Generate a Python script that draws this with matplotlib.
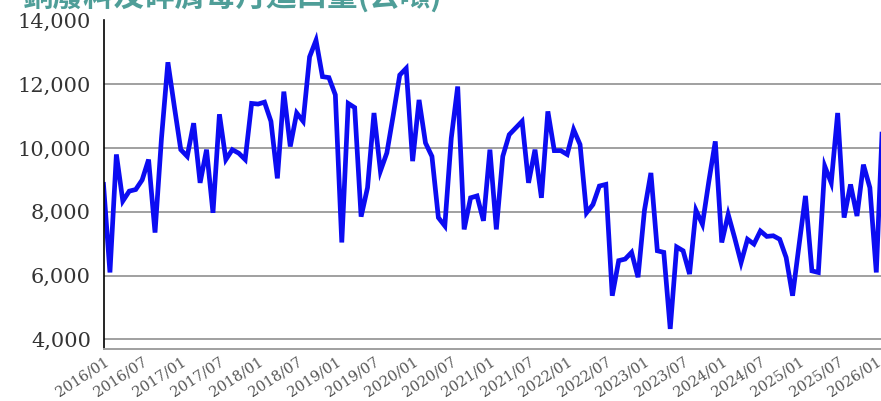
# 銅廢料及碎屑每月進口量 monthly line chart

import matplotlib.pyplot as plt
import numpy as np

title = "銅廢料及碎屑每月進口量(公噸)"

# monthly import volume (tonnes), 2016/01 onward
imports = [
    8860, 6100, 9800, 8340, 8650, 8700, 9000, 9640, 7350, 10300,   # 2016
    12690, 11300,
    9950, 9740, 10780, 8910, 9950, 7970, 11060, 9640, 9950, 9840,   # 2017
    9640, 11400,
    11380, 11440, 10840, 9050, 11770, 10050, 11100, 10840, 12860, 13380,  # 2018
    12240, 12210,
    11670, 7040, 11400, 11270, 7850, 8760, 11100, 9280, 9850, 11040,  # 2019
    12290, 12500,
    9590, 11510, 10160, 9740, 7820, 7560, 10310, 11930, 7450, 8440,  # 2020
    8500, 7720,
    9950, 7450, 9740, 10420, 10630, 10840, 8910, 9950, 8440, 11150,  # 2021
    9920, 9920,
    9800, 10580, 10110, 7970, 8230, 8810, 8860, 5370, 6470, 6520,    # 2022
    6730, 5950,
    8050, 9220, 6780, 6730, 4330, 6900, 6780, 6050, 8050, 7610,      # 2023
    8960, 10210,
    7040, 7920, 7190, 6410, 7140, 6990, 7400, 7230, 7250, 7140,      # 2024
    6570, 5370,
    6950, 8500, 6150, 6100, 9430, 8910, 11100, 7820, 8860, 7870,     # 2025
    9480, 8760,
    6100, 11000,                                                     # 2026
]
months = np.arange(len(imports))

tick_pos = np.arange(0, 121, 6)
tick_labels = [f"{2016 + m // 12}/{m % 12 + 1:02d}" for m in tick_pos]
y_ticks = [4000, 6000, 8000, 10000, 12000, 14000]

fig = plt.figure(figsize=(8.81, 4.01), dpi=100)
ax = fig.add_axes([103.5 / 881, 1 - 349 / 401, 1 - 103.5 / 881, (349 - 20.5) / 401])

ax.plot(months, imports, color="#0c0cf2", lw=3.4, solid_joinstyle="miter")

ax.set_xlim(0, (881 - 103.5) / 6.44)
ax.set_ylim(3700, 14000)

ax.set_yticks(y_ticks)
ax.set_yticklabels([f"{v:,}" for v in y_ticks], family="DejaVu Serif",
                   fontsize=15, color="#333333")
ax.set_xticks(tick_pos)
ax.set_xticklabels(tick_labels, family="DejaVu Serif", fontsize=10.5,
                   color="#555555", rotation=33, ha="right",
                   rotation_mode="anchor")
ax.tick_params(axis="both", length=0)
ax.tick_params(axis="y", pad=9)
ax.tick_params(axis="x", pad=4)

for v in y_ticks[:-1]:
    ax.axhline(v, color="#a0a0a0", lw=1.4, zorder=0)

for s in ["top", "right"]:
    ax.spines[s].set_visible(False)
ax.spines["bottom"].set_color("#a0a0a0")
ax.spines["bottom"].set_linewidth(1.4)
ax.spines["left"].set_color("black")
ax.spines["left"].set_linewidth(1.2)

fig.text(0.025, 1.009, title, family=["Noto Sans CJK TC", "DejaVu Sans"],
         fontsize=22, fontweight="bold", color="#4f9e98", va="center", ha="left")

fig.savefig("out.png", dpi=100)
